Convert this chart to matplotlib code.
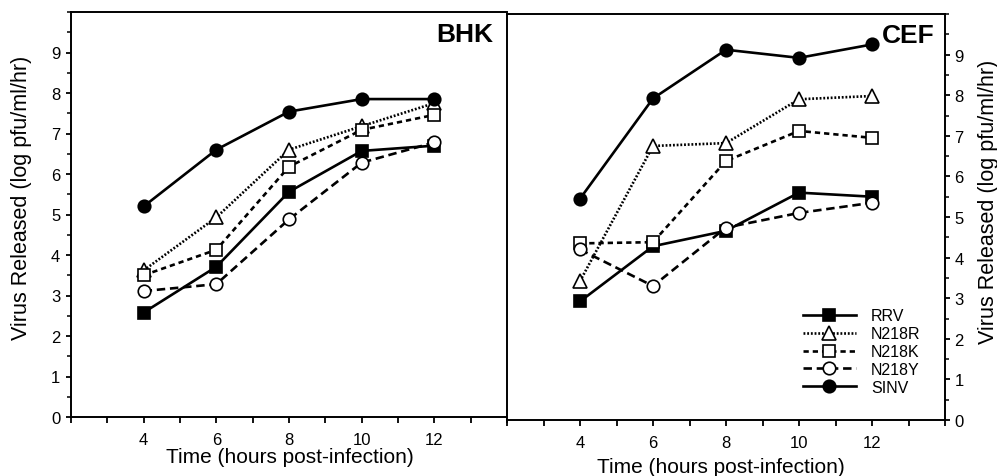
import matplotlib
matplotlib.use("Agg")
import matplotlib.pyplot as plt
from matplotlib.ticker import MultipleLocator, FixedLocator

plt.rcParams['font.family'] = ['Liberation Sans', 'DejaVu Sans']

hours = [4, 6, 8, 10, 12]
series_names = ["RRV", "N218R", "N218K", "N218Y", "SINV"]

bhk_rrv = [2.58, 3.71, 5.56, 6.57, 6.70]
bhk_n218r = [3.62, 4.93, 6.60, 7.18, 7.75]
bhk_n218k = [3.50, 4.13, 6.18, 7.09, 7.46]
bhk_n218y = [3.11, 3.28, 4.88, 6.28, 6.78]
bhk_sinv = [5.20, 6.60, 7.54, 7.85, 7.85]

cef_rrv = [2.92, 4.28, 4.66, 5.60, 5.50]
cef_n218r = [3.42, 6.75, 6.82, 7.90, 7.98]
cef_n218k = [4.35, 4.38, 6.38, 7.12, 6.95]
cef_n218y = [4.20, 3.30, 4.74, 5.10, 5.35]
cef_sinv = [5.45, 7.92, 9.12, 8.92, 9.25]

styles = {
    "RRV": dict(ls='-', marker='s', mfc='black'),
    "N218R": dict(ls=(0, (0.7, 0.7)), marker='^', mfc='white'),
    "N218K": dict(ls=(0, (2.0, 1.5)), marker='s', mfc='white'),
    "N218Y": dict(ls=(0, (3.2, 1.8)), marker='o', mfc='white'),
    "SINV": dict(ls='-', marker='o', mfc='black'),
}

fig = plt.figure(figsize=(9.97, 4.77), dpi=100)
axL = fig.add_axes([71/997, 1-418/477, 436/997, 405/477])
axR = fig.add_axes([507/997, 1-421/477, 438/997, 406/477])

panels = [
    (axL, "BHK", [bhk_rrv, bhk_n218r, bhk_n218k, bhk_n218y, bhk_sinv], (0.968, 0.946)),
    (axR, "CEF", [cef_rrv, cef_n218r, cef_n218k, cef_n218y, cef_sinv], (0.977, 0.948)),
]

for ax, title, data, tpos in panels:
    for name, vals in zip(series_names, data):
        st = styles[name]
        ms = 9 if st['marker'] != '^' else 9.5
        ax.plot(hours, vals, color='black', lw=1.9, linestyle=st['ls'],
                marker=st['marker'], markersize=ms, markerfacecolor=st['mfc'],
                markeredgecolor='black', markeredgewidth=1.2, label=name,
                zorder=3)
    ax.set_xlim(2, 14)
    ax.set_ylim(0, 10)
    ax.xaxis.set_major_locator(FixedLocator([4, 6, 8, 10, 12]))
    ax.xaxis.set_minor_locator(FixedLocator([2, 3, 5, 7, 9, 11, 13, 14]))
    ax.yaxis.set_major_locator(FixedLocator(list(range(0, 10))))
    ax.yaxis.set_minor_locator(MultipleLocator(0.5))
    ax.tick_params(axis='x', which='both', direction='out', length=4, width=1.3,
                   labelsize=12, pad=7)
    ax.tick_params(axis='y', which='major', direction='out', length=3.8, width=1.3,
                   labelsize=12)
    ax.tick_params(axis='y', which='minor', direction='out', length=2.8, width=1.1)
    for sp in ax.spines.values():
        sp.set_linewidth(1.4)
    ax.set_xlabel("Time (hours post-infection)", fontsize=15)
    ax.text(tpos[0], tpos[1], title, transform=ax.transAxes, ha='right', va='center',
            fontsize=19, fontweight='bold')

axL.spines['right'].set_visible(False)
axL.set_ylabel("Virus Released (log pfu/ml/hr)", fontsize=15.5)
axL.tick_params(axis='y', which='major', pad=4)
axL.yaxis.set_label_coords(-0.089, 0.543)
axL.xaxis.set_label_coords(0.502, -0.074)

axR.yaxis.tick_right()
axR.yaxis.set_label_position('right')
axR.tick_params(axis='y', which='both', left=False, right=True, labelleft=False,
                labelright=True)
axR.tick_params(axis='y', which='major', pad=3)
axR.set_ylabel("Virus Released (log pfu/ml/hr)", fontsize=15.5)
axR.yaxis.set_label_coords(1.075, 0.54)
axR.xaxis.set_label_coords(0.489, -0.091)

axR.legend(loc='upper left', bbox_to_anchor=(0.676, 0.275), frameon=False,
           fontsize=11.5, handlelength=3.3, handletextpad=0.95, labelspacing=0.18,
           borderpad=0, borderaxespad=0)

fig.savefig("out.png", dpi=100)
